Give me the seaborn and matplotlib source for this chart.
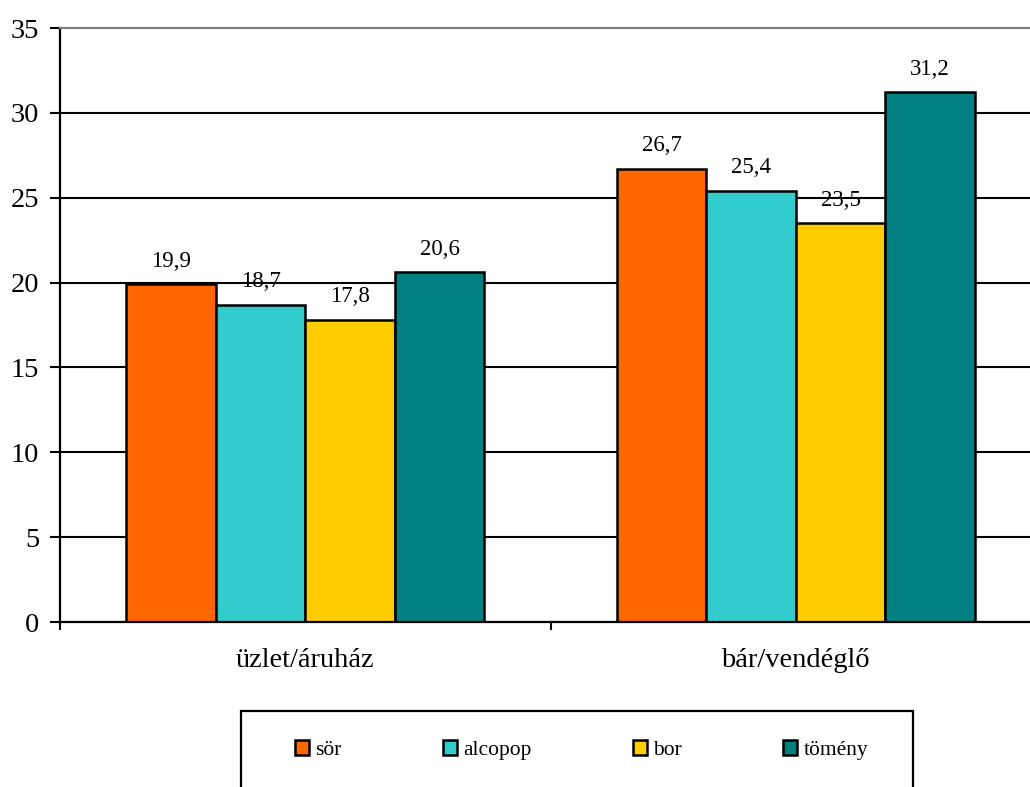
import matplotlib
matplotlib.use("Agg")
import matplotlib.pyplot as plt
import seaborn as sns
import pandas as pd
from matplotlib.patches import Rectangle

categories = ["üzlet/áruház", "bár/vendéglő"]
series = ["sör", "alcopop", "bor", "tömény"]
values_sor = [19.9, 26.7]
values_alcopop = [18.7, 25.4]
values_bor = [17.8, 23.5]
values_tomeny = [20.6, 31.2]
colors = ["#FF6600", "#33CCCC", "#FFCC00", "#008080"]
yticks = [0, 5, 10, 15, 20, 25, 30, 35]

rows = []
for s, vals in zip(series, [values_sor, values_alcopop, values_bor, values_tomeny]):
    for c, v in zip(categories, vals):
        rows.append({"kategoria": c, "ital": s, "ertek": v})
df = pd.DataFrame(rows)

sns.set_theme(style="white")
plt.rcParams["font.family"] = ["Liberation Serif", "DejaVu Serif"]
plt.rcParams["text.color"] = "black"
plt.rcParams["xtick.color"] = "black"
plt.rcParams["ytick.color"] = "black"
plt.rcParams["xtick.labelcolor"] = "black"
plt.rcParams["ytick.labelcolor"] = "black"

fig = plt.figure(figsize=(10.3, 7.87), dpi=100)
ax = fig.add_axes([60 / 1030, 1 - 622 / 787, 981 / 1030, 594 / 787])

sns.barplot(data=df, x="kategoria", y="ertek", hue="ital", order=categories,
            hue_order=series, palette=colors, width=0.73, edgecolor="black",
            linewidth=1.8, saturation=1, ax=ax, legend=True)

handles, labels = ax.get_legend_handles_labels()
if ax.legend_ is not None:
    ax.legend_.remove()

# data labels
for cont, vals in zip(ax.containers, [values_sor, values_alcopop, values_bor, values_tomeny]):
    ax.bar_label(cont, labels=[f"{v:.1f}".replace(".", ",") for v in vals],
                 padding=9, fontsize=16.5, color="black")

ax.set_xlim(-0.5, 1.5)
ax.set_ylim(0, 35)
ax.set_yticks(yticks)
ax.set_xticks([0, 1], labels=categories)
ax.set_xticks([-0.5, 0.5, 1.5], minor=True)
ax.set_xlabel("")
ax.set_ylabel("")

ax.tick_params(axis="y", which="major", direction="out", length=7, width=1.5,
               color="black", labelcolor="black", labelsize=20.5, pad=8, left=True)
ax.tick_params(axis="x", which="major", length=0, labelsize=20.5, pad=19,
               labelcolor="black")
ax.tick_params(axis="x", which="minor", direction="out", length=6, width=1.5,
               color="black", bottom=True)

ax.yaxis.grid(True, color="black", linewidth=1.5)
ax.set_axisbelow(True)
gl = ax.get_ygridlines()
gl[-1].set_visible(False)

for side in ["left", "bottom"]:
    ax.spines[side].set_color("black")
    ax.spines[side].set_linewidth(1.6)
ax.spines["top"].set_color("#808080")
ax.spines["top"].set_linewidth(1.6)
ax.spines["right"].set_visible(False)

# legend frame
fig.patches.append(Rectangle((241 / 1030, -0.05), 672 / 1030, 0.05 + (1 - 711 / 787),
                             transform=fig.transFigure, fill=False,
                             edgecolor="black", linewidth=1.6))

fig.legend(handles, labels, ncol=4, frameon=False, fontsize=15.5,
           handlelength=0.65, handleheight=0.65, handletextpad=0.3,
           columnspacing=4.7, loc="center",
           bbox_to_anchor=(0.5646, 0.047), bbox_transform=fig.transFigure)

fig.savefig("out.png", dpi=100)
